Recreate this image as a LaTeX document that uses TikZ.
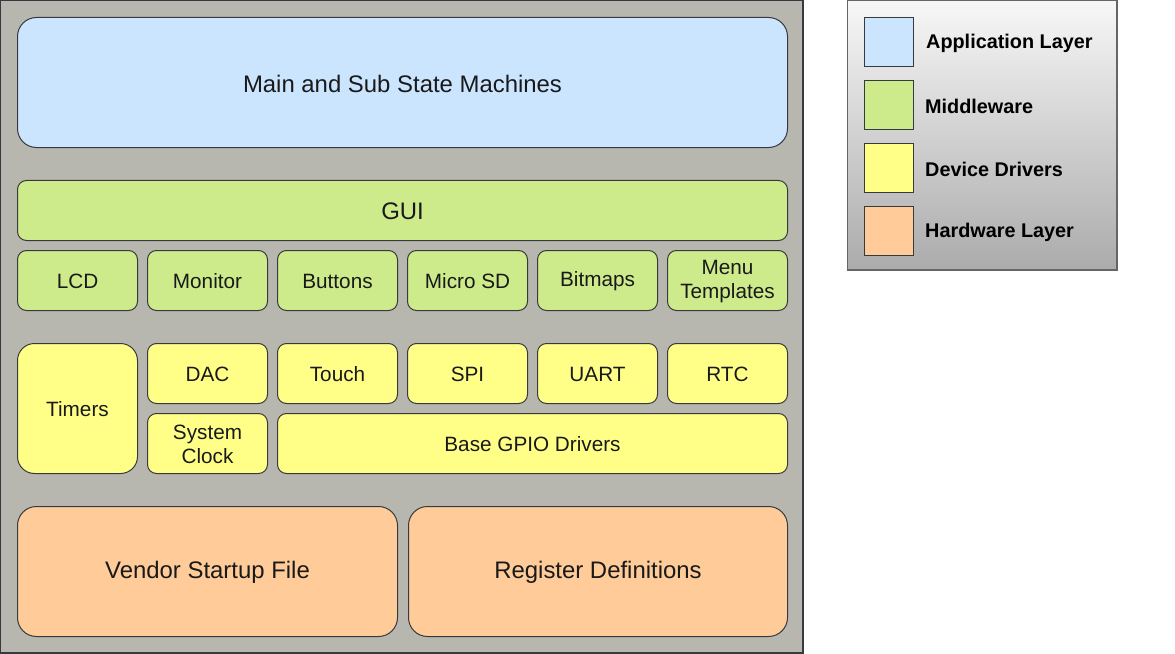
\documentclass[tikz,border=0pt]{standalone}
\usepackage{fontspec}
\setmainfont{Liberation Sans}
\definecolor{bgc}{HTML}{B8B7AF}
\definecolor{strk}{HTML}{36393D}
\definecolor{appc}{HTML}{CCE5FF}
\definecolor{midc}{HTML}{CDEB8B}
\definecolor{drvc}{HTML}{FFFF88}
\definecolor{hwc}{HTML}{FFCC99}
\definecolor{legtop}{HTML}{F7F7F7}
\definecolor{legbot}{HTML}{ABABAB}
\definecolor{legline}{HTML}{666666}
\newcommand{\bigtxt}{\fontsize{24}{26}\selectfont}
\newcommand{\smtxt}{\fontsize{20.8}{24.5}\selectfont}
\newcommand{\legtxt}{\fontsize{19.9}{23}\selectfont\bfseries}
\tikzset{
  blk/.style={draw=strk, line width=1bp, anchor=north west, inner sep=0pt},
  smallblk/.style={blk, minimum width=120bp, minimum height=60bp, rounded corners=9bp},
  bigblk/.style={blk, minimum height=130bp, rounded corners=19bp},
  txt/.style={inner sep=0pt, align=center, text=black!90, yshift=-1bp},
  bigtx/.style={txt, font=\bigtxt},
  smtx/.style={txt, font=\smtxt},
  legsq/.style={draw=strk, line width=1bp, anchor=north west, minimum width=49bp, minimum height=49bp, inner sep=0pt},
  legl/.style={anchor=west, inner sep=0pt, font=\legtxt, text=black, yshift=-2bp},
}
\begin{document}
\begin{tikzpicture}[x=1bp, y=-1bp]
\useasboundingbox (0,0) rectangle (1175,654);
% background frame
\draw[fill=bgc, draw=strk, line width=1.5bp] (0.75,0.75) rectangle (803,653);
% application layer
\node[bigblk, fill=appc, minimum width=770bp] (main) at (17,17) {};
% middleware
\node[blk, fill=midc, minimum width=770bp, minimum height=60bp, rounded corners=9bp] (gui) at (17,180) {};
\node[smallblk, fill=midc] (lcd) at (17,250) {};
\node[smallblk, fill=midc] (mon) at (147,250) {};
\node[smallblk, fill=midc] (btn) at (277,250) {};
\node[smallblk, fill=midc] (sd) at (407,250) {};
\node[smallblk, fill=midc] (bmp) at (537,250) {};
\node[smallblk, fill=midc] (menu) at (667,250) {};
% device drivers
\node[smallblk, fill=drvc, minimum height=130bp, rounded corners=17bp] (tim) at (17,343) {};
\node[smallblk, fill=drvc] (dac) at (147,343) {};
\node[smallblk, fill=drvc] (tch) at (277,343) {};
\node[smallblk, fill=drvc] (spi) at (407,343) {};
\node[smallblk, fill=drvc] (uart) at (537,343) {};
\node[smallblk, fill=drvc] (rtc) at (667,343) {};
\node[smallblk, fill=drvc] (clk) at (147,413) {};
\node[smallblk, fill=drvc, minimum width=510bp] (gpio) at (277,413) {};
% hardware layer
\node[bigblk, fill=hwc, minimum width=380bp] (vend) at (17,506) {};
\node[bigblk, fill=hwc, minimum width=379bp] (reg) at (408,506) {};
% texts
\node[bigtx] (tmain) at (main.center) {Main and Sub State Machines};
\node[bigtx] (tgui) at (gui.center) {GUI};
\node[smtx] (tlcd) at (lcd.center) {LCD};
\node[smtx] (tmon) at (mon.center) {Monitor};
\node[smtx] (tbtn) at (btn.center) {Buttons};
\node[smtx] (tsd) at (sd.center) {Micro SD};
\node[smtx] (tbmp) at (bmp.center) {Bitmaps};
\node[smtx] (tmenu) at (menu.center) {Menu\\Templates};
\node[smtx] (ttim) at (tim.center) {Timers};
\node[smtx] (tdac) at (dac.center) {DAC};
\node[smtx] (ttch) at (tch.center) {Touch};
\node[smtx] (tspi) at (spi.center) {SPI};
\node[smtx] (tuart) at (uart.center) {UART};
\node[smtx] (trtc) at (rtc.center) {RTC};
\node[smtx] (tclk) at (clk.center) {System\\Clock};
\node[smtx] (tgpio) at (gpio.center) {Base GPIO Drivers};
\node[bigtx] (tvend) at (vend.center) {Vendor Startup File};
\node[bigtx] (treg) at (reg.center) {Register Definitions};
% legend
\shade[top color=legtop, bottom color=legbot] (847.5,0.75) rectangle (1117,270);
\draw[draw=legline, line width=1.2bp] (847.5,0.75) rectangle (1117,270);
\node[legsq, fill=appc] (lapp) at (863.5,17) {};
\node[legsq, fill=midc] (lmid) at (863.5,80) {};
\node[legsq, fill=drvc] (ldrv) at (863.5,143) {};
\node[legsq, fill=hwc] (lhw) at (863.5,206) {};
\node[legl] (tapp) at (926,41.5) {Application Layer};
\node[legl] (tmid) at (925,104.5) {Middleware};
\node[legl] (tdrv) at (925,167.5) {Device Drivers};
\node[legl] (thw) at (925,230.5) {Hardware Layer};
\end{tikzpicture}
\end{document}
